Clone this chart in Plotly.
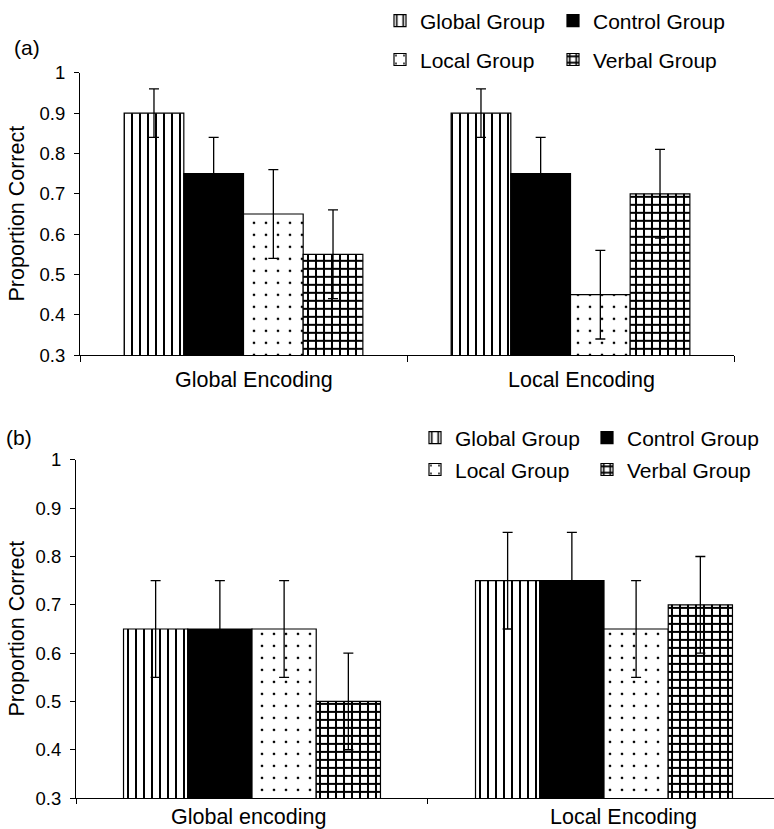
import plotly.graph_objects as go

W, H = 774, 829
FONT = "Liberation Sans, Arial, Helvetica, sans-serif"

# ---- data ----
groups = ["Global Group", "Control Group", "Local Group", "Verbal Group"]
categories_a = ["Global Encoding", "Local Encoding"]
categories_b = ["Global encoding", "Local Encoding"]

a_global = [0.90, 0.90]
a_control = [0.75, 0.75]
a_local = [0.65, 0.45]
a_verbal = [0.55, 0.70]
a_global_err = [0.06, 0.06]
a_control_err = [0.09, 0.09]
a_local_err = [0.11, 0.11]
a_verbal_err = [0.11, 0.11]

b_global = [0.65, 0.75]
b_control = [0.65, 0.75]
b_local = [0.65, 0.65]
b_verbal = [0.50, 0.70]
b_global_err = [0.10, 0.10]
b_control_err = [0.10, 0.10]
b_local_err = [0.10, 0.10]
b_verbal_err = [0.10, 0.10]

y_ticks = [0.3, 0.4, 0.5, 0.6, 0.7, 0.8, 0.9, 1.0]
y_ticktext = ["0.3", "0.4", "0.5", "0.6", "0.7", "0.8", "0.9", "1"]

# ---- styles ----
styles = {
    "Global Group": dict(color="white", pattern=dict(shape="|", fgcolor="black", bgcolor="white", size=8, solidity=0.25, fgopacity=1)),
    "Control Group": dict(color="black"),
    "Local Group": dict(color="white", pattern=dict(shape=".", fgcolor="black", bgcolor="white", size=12, solidity=0.04, fgopacity=1)),
    "Verbal Group": dict(color="white", pattern=dict(shape="+", fgcolor="black", bgcolor="white", size=8, solidity=0.44, fgopacity=1)),
}

panel_a = [a_global, a_control, a_local, a_verbal]
panel_a_err = [a_global_err, a_control_err, a_local_err, a_verbal_err]
panel_b = [b_global, b_control, b_local, b_verbal]
panel_b_err = [b_global_err, b_control_err, b_local_err, b_verbal_err]

fig = go.Figure()

legend_names = ["legend", "legend2", "legend3", "legend4", "legend5", "legend6", "legend7", "legend8"]

for i, g in enumerate(groups):
    fig.add_trace(go.Bar(
        x=categories_a, y=panel_a[i], name=g,
        marker=dict(line=dict(color="black", width=1.2), **styles[g]),
        error_y=dict(type="data", array=panel_a_err[i], visible=True, color="black", thickness=1.3, width=5),
        xaxis="x", yaxis="y", legend=legend_names[i], showlegend=True,
    ))
for i, g in enumerate(groups):
    fig.add_trace(go.Bar(
        x=categories_b, y=panel_b[i], name=g,
        marker=dict(line=dict(color="black", width=1.2), **styles[g]),
        error_y=dict(type="data", array=panel_b_err[i], visible=True, color="black", thickness=1.3, width=5),
        xaxis="x2", yaxis="y2", legend=legend_names[4 + i], showlegend=True,
    ))

def px_x(v):
    return v / W

def px_y(v):
    return 1 - v / H

axis_common = dict(showgrid=False, zeroline=False, showline=True, linecolor="black", linewidth=1,
                   ticks="outside", tickcolor="black", automargin=False)

fig.update_layout(
    width=W, height=H,
    margin=dict(l=0, r=0, t=0, b=0),
    paper_bgcolor="white", plot_bgcolor="white",
    font=dict(family=FONT, color="black", size=21),
    barmode="group", bargap=0.27, bargroupgap=0,
    xaxis=dict(domain=[px_x(80), px_x(734)], anchor="y", type="category", range=[-0.5, 1.5],
               tickson="boundaries", ticklen=6, showticklabels=False, **axis_common),
    yaxis=dict(domain=[px_y(354), px_y(71)], anchor="x", range=[0.3, 1.0],
               tickvals=y_ticks, ticktext=y_ticktext, ticklen=5, ticklabelstandoff=5,
               tickfont=dict(size=18.5), **axis_common),
    xaxis2=dict(domain=[px_x(76), 1.0], anchor="y2", type="category", range=[-0.5, 1.483],
                tickson="boundaries", ticklen=5, showticklabels=False, **axis_common),
    yaxis2=dict(domain=[px_y(798), px_y(459)], anchor="x2", range=[0.3, 1.0],
                tickvals=y_ticks, ticktext=y_ticktext, ticklen=5, ticklabelstandoff=5,
                tickfont=dict(size=18.5), **axis_common),
)

# legends: one per entry, laid out as 2x2 grids
leg_pos = [
    (400, 19), (573, 19), (400, 58), (573, 58),
    (435, 437), (607, 437), (435, 469), (607, 469),
]
leg_layout = {}
for name, (cx, cy) in zip(legend_names, leg_pos):
    leg_layout[name] = dict(x=px_x(cx - 20), y=px_y(cy), xanchor="left", yanchor="middle",
                            bgcolor="rgba(0,0,0,0)", borderwidth=0, orientation="h",
                            font=dict(family=FONT, size=21, color="black"), itemwidth=30)
fig.update_layout(**leg_layout)

annotations = [
    dict(text="(a)", x=px_x(12), y=px_y(46), xref="paper", yref="paper", xanchor="left", yanchor="middle",
         showarrow=False, font=dict(size=21)),
    dict(text="(b)", x=px_x(4), y=px_y(437), xref="paper", yref="paper", xanchor="left", yanchor="middle",
         showarrow=False, font=dict(size=21)),
    dict(text="Proportion Correct", x=px_x(16.5), y=px_y(212.5), xref="paper", yref="paper", textangle=-90,
         xanchor="center", yanchor="middle", showarrow=False, font=dict(size=21.5)),
    dict(text="Proportion Correct", x=px_x(16.5), y=px_y(628.5), xref="paper", yref="paper", textangle=-90,
         xanchor="center", yanchor="middle", showarrow=False, font=dict(size=21.5)),
]
label_shift_a = [10, 11]
label_shift_b = [-4, 20]
for c, s in zip(categories_a, label_shift_a):
    annotations.append(dict(text=c, x=c, xref="x", y=px_y(379), yref="paper", xshift=s,
                            xanchor="center", yanchor="middle", showarrow=False, font=dict(size=21.5)))
for c, s in zip(categories_b, label_shift_b):
    annotations.append(dict(text=c, x=c, xref="x2", y=px_y(817), yref="paper", xshift=s,
                            xanchor="center", yanchor="middle", showarrow=False, font=dict(size=21.5)))
fig.update_layout(annotations=annotations)

fig.write_html("out.html", config={"displayModeBar": False},
               post_script="document.body.style.margin='0';document.body.style.overflow='hidden';")
